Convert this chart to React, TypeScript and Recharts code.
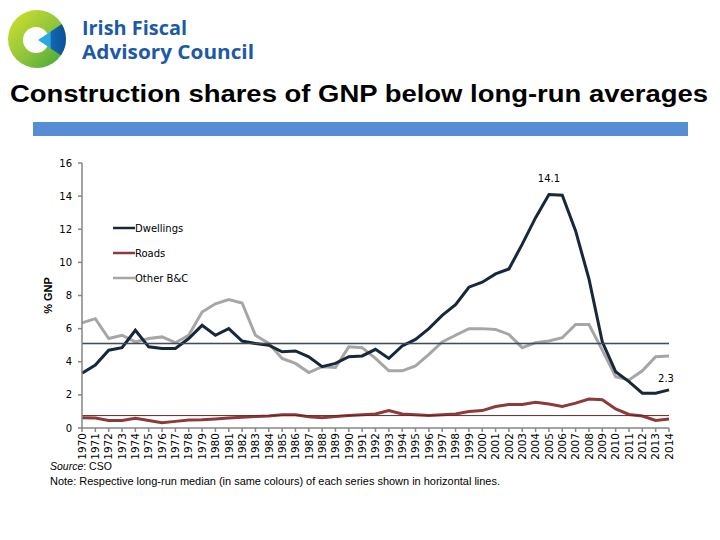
import React from 'react';
import { LineChart, Line, XAxis, YAxis, ReferenceLine, Legend, LabelList } from 'recharts';

const years = [
  '1970', '1971', '1972', '1973', '1974', '1975', '1976', '1977', '1978', '1979',
  '1980', '1981', '1982', '1983', '1984', '1985', '1986', '1987', '1988', '1989',
  '1990', '1991', '1992', '1993', '1994', '1995', '1996', '1997', '1998', '1999',
  '2000', '2001', '2002', '2003', '2004', '2005', '2006', '2007', '2008', '2009',
  '2010', '2011', '2012', '2013', '2014',
];

const dwellings = [
  3.3, 3.8, 4.7, 4.85, 5.9, 4.9, 4.8, 4.8, 5.4, 6.2,
  5.6, 6.0, 5.25, 5.1, 5.0, 4.6, 4.65, 4.3, 3.7, 3.9,
  4.3, 4.35, 4.75, 4.2, 4.95, 5.35, 6.0, 6.8, 7.45, 8.5,
  8.8, 9.3, 9.6, 11.1, 12.7, 14.1, 14.05, 11.9, 9.0, 5.2,
  3.4, 2.8, 2.1, 2.1, 2.3,
];

const roads = [
  0.62, 0.6, 0.45, 0.45, 0.58, 0.45, 0.32, 0.4, 0.48, 0.5,
  0.55, 0.6, 0.65, 0.7, 0.72, 0.8, 0.8, 0.68, 0.62, 0.7,
  0.75, 0.8, 0.85, 1.05, 0.85, 0.8, 0.75, 0.8, 0.85, 1.0,
  1.05, 1.3, 1.42, 1.42, 1.55, 1.45, 1.3, 1.5, 1.75, 1.7,
  1.15, 0.82, 0.72, 0.45, 0.55,
];

const otherBC = [
  6.35, 6.6, 5.4, 5.6, 5.2, 5.4, 5.5, 5.15, 5.6, 7.0,
  7.5, 7.75, 7.55, 5.6, 5.1, 4.2, 3.9, 3.35, 3.7, 3.65,
  4.9, 4.85, 4.2, 3.45, 3.45, 3.75, 4.45, 5.2, 5.6, 6.0,
  6.0, 5.95, 5.65, 4.85, 5.15, 5.25, 5.45, 6.25, 6.25, 4.7,
  3.1, 2.9, 3.45, 4.3, 4.35,
];

const dwellingsMedian = 5.1;
const otherMedian = 5.1;
const roadsMedian = 0.75;

const yTicks = [0, 2, 4, 6, 8, 10, 12, 14, 16];
const labelYears = ['2005', '2014'];
const legendOrder = ['Dwellings', 'Roads', 'Other B&C'];

const COLORS = {
  dwellings: '#17283b',
  roads: '#8c3a3a',
  other: '#a6a6a6',
};

const data = years.map((year, i) => ({
  year,
  dwellings: dwellings[i],
  roads: roads[i],
  other: otherBC[i],
  label: labelYears.includes(year) ? dwellings[i] : null,
}));

const TICK_FONT = '"DejaVu Sans", Verdana, sans-serif';

const XTick = (props: any) => {
  const { x, y, payload } = props;
  return (
    <text
      x={x}
      y={y}
      transform={`rotate(-90 ${x} ${y})`}
      textAnchor="end"
      dy="0.36em"
      fontSize={10.5}
      fontFamily={TICK_FONT}
      fill="#000"
    >
      {payload.value}
    </text>
  );
};

const LegendContent = (props: any) => {
  const payload = [...(props.payload || [])].sort(
    (a: any, b: any) => legendOrder.indexOf(a.value) - legendOrder.indexOf(b.value)
  );
  return (
    <svg width={110} height={70}>
      {payload.map((p: any, i: number) => (
        <g key={p.value}>
          <line x1={0} x2={22} y1={5 + i * 25} y2={5 + i * 25} stroke={p.color} strokeWidth={2.5} />
          <text x={22} y={5 + i * 25} dy="0.36em" fontSize={10} fontFamily={TICK_FONT} fill="#000">
            {p.value}
          </text>
        </g>
      ))}
    </svg>
  );
};

const PeakLabel = (props: any) => {
  const { x, y, value } = props;
  if (value === null || value === undefined) return null;
  const low = Number(value) < 5;
  return (
    <text
      x={Number(x) - (low ? 3 : 0)}
      y={Number(y) - (low ? 8 : 12)}
      textAnchor="middle"
      fontSize={10}
      fontFamily={TICK_FONT}
      fill="#000"
    >
      {Number(value).toFixed(1)}
    </text>
  );
};

export default function App() {
  return (
    <div
      style={{
        position: 'absolute',
        left: 0,
        top: 0,
        width: 720,
        height: 540,
        background: '#fff',
        overflow: 'hidden',
      }}
    >
      <svg width={720} height={540} style={{ position: 'absolute', left: 0, top: 0 }}>
        <defs>
          <linearGradient id="greenGrad" x1="0" y1="0" x2="1" y2="1">
            <stop offset="0" stopColor="#d6e22a" />
            <stop offset="0.55" stopColor="#8cc43c" />
            <stop offset="1" stopColor="#3aa437" />
          </linearGradient>
          <linearGradient id="blueGrad" x1="0" y1="0" x2="1" y2="0">
            <stop offset="0" stopColor="#2aa9e0" />
            <stop offset="0.4" stopColor="#2aa9e0" />
            <stop offset="0.45" stopColor="#1266b0" />
            <stop offset="1" stopColor="#0b4f95" />
          </linearGradient>
          <clipPath id="logoClip">
            <circle cx={37} cy={39} r={29} />
          </clipPath>
        </defs>
        <circle cx={37} cy={39} r={29} fill="url(#greenGrad)" />
        <circle cx={36} cy={40} r={13} fill="#fff" />
        <polygon points="38,40 68,20 68,60" fill="url(#blueGrad)" clipPath="url(#logoClip)" />
        <text
          x={82}
          y={35}
          fontSize={19}
          fontWeight={700}
          fontFamily='"Open Sans", sans-serif'
          fill="#1d5aa5"
          textLength={105}
          lengthAdjust="spacingAndGlyphs"
        >
          Irish Fiscal
        </text>
        <text
          x={82}
          y={59}
          fontSize={19}
          fontWeight={700}
          fontFamily='"Open Sans", sans-serif'
          fill="#1d5aa5"
          textLength={172}
          lengthAdjust="spacingAndGlyphs"
        >
          Advisory Council
        </text>
        <text
          x={10}
          y={102}
          fontSize={23}
          fontWeight={700}
          fontFamily='"Liberation Sans", Arial, sans-serif'
          fill="#000"
          textLength={698}
          lengthAdjust="spacingAndGlyphs"
        >
          Construction shares of GNP below long-run averages
        </text>
        <rect x={33} y={122} width={655} height={14} fill="#558ed5" />
        <text x={50} y={470} fontSize={10.5} fontFamily='"Liberation Sans", Arial, sans-serif' fill="#000">
          <tspan fontStyle="italic">Source</tspan>
          <tspan>: CSO</tspan>
        </text>
        <text
          x={50}
          y={485}
          fontSize={10.5}
          fontFamily='"Liberation Sans", Arial, sans-serif'
          fill="#000"
          textLength={450}
          lengthAdjust="spacingAndGlyphs"
        >
          Note: Respective long-run median (in same colours) of each series shown in horizontal lines.
        </text>
      </svg>

      <div style={{ position: 'absolute', left: 0, top: 150 }}>
        <LineChart
          width={720}
          height={318}
          data={data}
          margin={{ top: 13, right: 51, bottom: 0, left: 20 }}
        >
          <XAxis
            dataKey="year"
            interval={0}
            height={40}
            tick={<XTick />}
            tickSize={4}
            tickMargin={1}
            axisLine={{ stroke: '#868686', strokeWidth: 1.5 }}
            tickLine={{ stroke: '#868686', strokeWidth: 1.5 }}
          />
          <YAxis
            domain={[0, 16]}
            ticks={yTicks}
            width={62}
            interval={0}
            tickSize={4}
            tickMargin={6}
            axisLine={{ stroke: '#868686', strokeWidth: 1.5 }}
            tickLine={{ stroke: '#868686', strokeWidth: 1.5 }}
            tick={{ fontSize: 10, fill: '#000', fontFamily: TICK_FONT }}
            label={{
              value: '% GNP',
              angle: -90,
              position: 'insideLeft',
              offset: 28,
              dy: 0,
              style: {
                fontSize: 11,
                fontWeight: 700,
                fontFamily: '"Liberation Sans", Arial, sans-serif',
                fill: '#000',
                textAnchor: 'middle',
              },
            }}
          />
          <Legend
            layout="vertical"
            align="center"
            verticalAlign="middle"
            content={<LegendContent />}
            wrapperStyle={{ position: 'absolute', left: 113, top: 73, width: 110, height: 70 }}
          />
          <Line
            name="Other B&C"
            dataKey="other"
            stroke={COLORS.other}
            strokeWidth={3}
            dot={false}
            activeDot={false}
            isAnimationActive={false}
          />
          <Line
            name="Roads"
            dataKey="roads"
            stroke={COLORS.roads}
            strokeWidth={3}
            dot={false}
            activeDot={false}
            isAnimationActive={false}
          />
          <Line
            name="Dwellings"
            dataKey="dwellings"
            stroke={COLORS.dwellings}
            strokeWidth={3}
            dot={false}
            activeDot={false}
            isAnimationActive={false}
          >
            <LabelList dataKey="label" content={<PeakLabel />} />
          </Line>
          <ReferenceLine y={dwellingsMedian} stroke="#2e3d4d" strokeWidth={1.5} />
          <ReferenceLine y={otherMedian} stroke="#5f6770" strokeWidth={0.8} strokeOpacity={0.5} />
          <ReferenceLine y={roadsMedian} stroke="#6e2424" strokeWidth={1} />
        </LineChart>
      </div>
    </div>
  );
}
